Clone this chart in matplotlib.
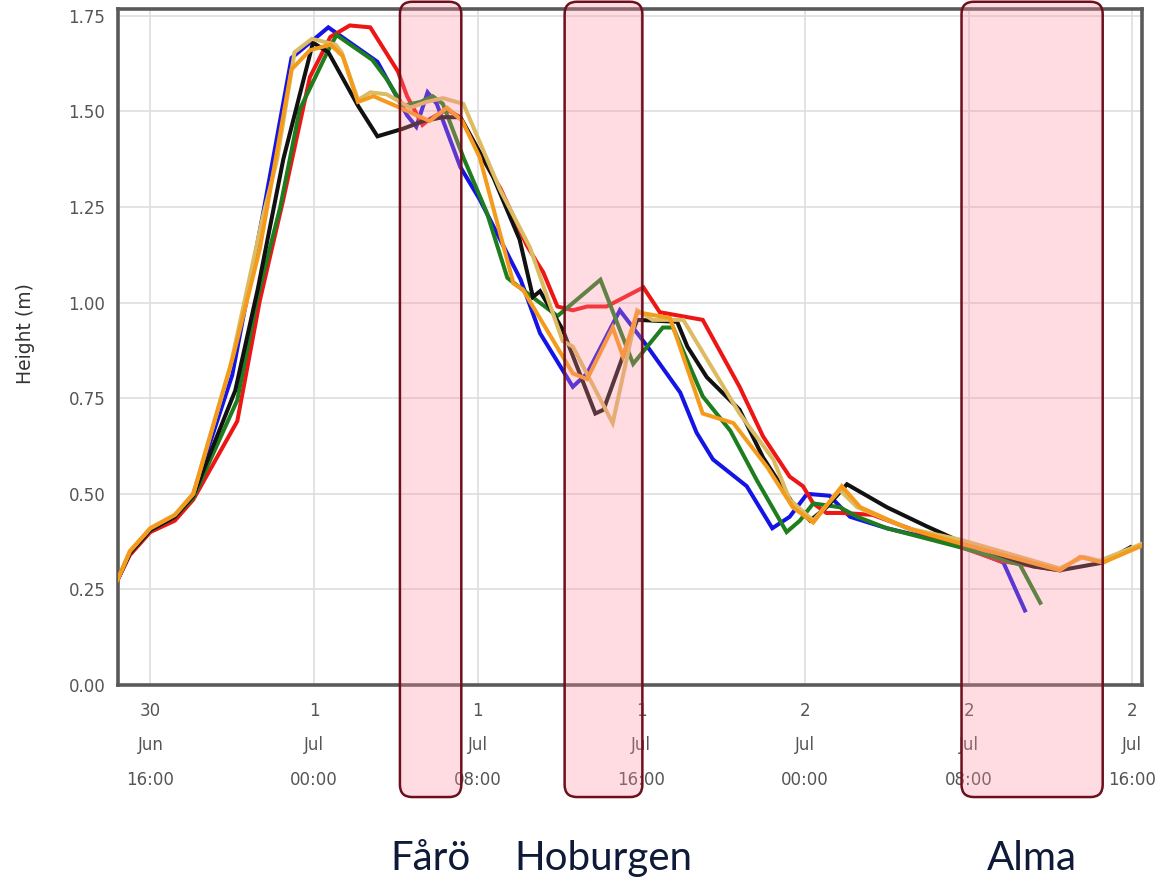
import matplotlib
matplotlib.use("Agg")
import matplotlib.pyplot as plt
from matplotlib.patches import FancyBboxPatch

# hours relative to 1 Jul 00:00, wave height in metres
blue_t = [-9.6, -9.0, -8.0, -6.8, -5.9, -4.0, -2.5, -1.1, 0.7, 3.1, 4.55, 5.0, 5.55, 6.0, 7.15,
          8.1, 10.1, 11.05, 12.65, 13.35, 14.95, 16.3, 17.9, 18.7, 19.5, 21.15, 22.4, 23.25, 24.1,
          25.2, 26.2, 28.0, 31.6, 33.7, 34.75]
blue_h = [0.275, 0.345, 0.405, 0.44, 0.50, 0.81, 1.23, 1.64, 1.72, 1.63, 1.49, 1.46, 1.55, 1.52, 1.355,
          1.27, 1.06, 0.92, 0.78, 0.815, 0.98, 0.885, 0.765, 0.66, 0.59, 0.52, 0.41, 0.44, 0.50,
          0.495, 0.44, 0.41, 0.365, 0.32, 0.195]

green_t = [-9.6, -9.0, -8.0, -6.8, -5.9, -3.75, -2.8, -1.65, -0.7, 0.65, 1.1, 2.85, 3.55, 4.35, 5.2,
           5.8, 6.3, 7.3, 8.45, 9.45, 10.05, 11.9, 14.0, 15.6, 17.05, 17.55, 19.0, 20.35, 21.65, 23.1,
           23.75, 24.4, 25.7, 26.55, 28.0, 31.6, 34.5, 35.5]
green_h = [0.275, 0.345, 0.405, 0.44, 0.49, 0.745, 1.005, 1.25, 1.505, 1.655, 1.70, 1.635, 1.585, 1.515, 1.525,
           1.54, 1.52, 1.38, 1.235, 1.065, 1.04, 0.965, 1.06, 0.84, 0.935, 0.935, 0.755, 0.665, 0.535, 0.40,
           0.43, 0.475, 0.465, 0.44, 0.41, 0.36, 0.315, 0.215]

red_t = [-9.6, -9.0, -8.0, -6.8, -5.9, -3.75, -2.65, -1.5, -0.2, 0.8, 1.75, 2.75, 4.1, 4.55, 5.3,
         5.65, 6.5, 7.15, 8.75, 9.1, 10.4, 10.9, 11.2, 11.9, 12.65, 13.35, 14.3, 16.1, 16.9, 19.0,
         20.8, 21.95, 23.25, 23.9, 24.4, 25.05, 25.85, 27.3, 30.6, 33.5, 36.45]
red_h = [0.275, 0.34, 0.40, 0.43, 0.485, 0.69, 1.005, 1.27, 1.59, 1.695, 1.725, 1.72, 1.605, 1.54, 1.465,
         1.48, 1.505, 1.485, 1.33, 1.30, 1.15, 1.105, 1.08, 0.99, 0.98, 0.99, 0.99, 1.04, 0.975, 0.955,
         0.78, 0.65, 0.545, 0.52, 0.475, 0.45, 0.45, 0.445, 0.38, 0.325, 0.30]

black_t = [-9.6, -9.0, -8.0, -6.8, -5.9, -3.85, -2.75, -1.5, -0.05, 0.7, 2.15, 3.1, 4.35, 5.35, 6.3,
           7.15, 8.75, 10.05, 10.7, 11.05, 12.15, 13.75, 14.15, 15.1, 15.8, 17.75, 18.25, 19.2, 20.8, 21.95,
           23.4, 24.25, 25.05, 26.05, 28.0, 29.95, 31.6, 35.15, 36.45, 38.55, 39.9]
black_h = [0.275, 0.345, 0.405, 0.44, 0.495, 0.77, 1.035, 1.375, 1.68, 1.655, 1.515, 1.435, 1.455, 1.475, 1.485,
           1.485, 1.33, 1.165, 1.015, 1.03, 0.93, 0.71, 0.72, 0.86, 0.955, 0.95, 0.885, 0.805, 0.72, 0.595,
           0.475, 0.43, 0.465, 0.525, 0.465, 0.415, 0.375, 0.31, 0.30, 0.32, 0.36]

khaki_t = [-9.6, -9.0, -8.0, -6.8, -5.9, -4.1, -2.5, -1.8, -0.95, -0.1, 1.05, 1.35, 2.15, 2.75, 3.55,
           4.7, 5.5, 6.3, 7.3, 9.1, 10.55, 12.15, 12.65, 14.6, 15.8, 16.55, 18.05, 20.8, 22.45, 23.25,
           24.4, 25.7, 26.55, 29.0, 31.6, 36.45, 37.6, 38.4, 40.5]
khaki_h = [0.275, 0.35, 0.41, 0.445, 0.50, 0.83, 1.225, 1.375, 1.655, 1.69, 1.675, 1.655, 1.53, 1.55, 1.545,
           1.51, 1.525, 1.535, 1.52, 1.295, 1.145, 0.90, 0.885, 0.685, 0.98, 0.955, 0.955, 0.71, 0.59, 0.485,
           0.43, 0.51, 0.465, 0.41, 0.38, 0.305, 0.335, 0.325, 0.37]

orange_t = [-9.6, -9.0, -8.0, -6.8, -5.9, -3.95, -2.65, -1.1, -0.2, 0.8, 1.4, 2.15, 2.9, 4.2, 5.65,
            6.5, 7.25, 8.1, 9.75, 10.2, 12.65, 13.35, 14.6, 15.1, 15.8, 17.4, 19.0, 20.5, 22.15, 23.4,
            24.4, 25.8, 26.7, 29.0, 31.6, 36.45, 37.45, 38.55, 40.5]
orange_h = [0.275, 0.35, 0.41, 0.445, 0.50, 0.86, 1.14, 1.61, 1.66, 1.675, 1.645, 1.525, 1.54, 1.51, 1.475,
            1.51, 1.475, 1.38, 1.05, 1.035, 0.815, 0.80, 0.935, 0.86, 0.975, 0.96, 0.71, 0.685, 0.57, 0.465,
            0.425, 0.52, 0.465, 0.41, 0.37, 0.30, 0.335, 0.32, 0.365]

tick_hours = [-8, 0, 8, 16, 24, 32, 40]
tick_labels = ["30\nJun\n16:00", "1\nJul\n00:00", "1\nJul\n08:00", "1\nJul\n16:00",
               "2\nJul\n00:00", "2\nJul\n08:00", "2\nJul\n16:00"]

region_names = ["Fårö", "Hoburgen", "Alma"]
region_start = [4.2, 12.25, 31.65]
region_end = [7.2, 16.05, 38.55]

fig = plt.figure(figsize=(11.66, 8.84), dpi=100)
ax = fig.add_axes([0.1012, 0.2251, 0.8782, 0.7647])

series = [
    (blue_t, blue_h, "#1414e6"),
    (red_t, red_h, "#ee1515"),
    (green_t, green_h, "#1e7d1e"),
    (black_t, black_h, "#111111"),
    (khaki_t, khaki_h, "#dcbb62"),
    (orange_t, orange_h, "#f59b1c"),
]
for t, h, c in series:
    ax.plot(t, h, color=c, lw=2.9, solid_joinstyle="miter", zorder=3)

ax.set_xlim(-9.58, 40.47)
ax.set_ylim(0, 1.768)
ax.set_yticks([0, 0.25, 0.5, 0.75, 1.0, 1.25, 1.5, 1.75])
ax.set_yticklabels(["0.00", "0.25", "0.50", "0.75", "1.00", "1.25", "1.50", "1.75"])
ax.set_xticks(tick_hours)
ax.set_xticklabels(tick_labels, linespacing=2.2)
ax.grid(True, color="#dedede", lw=1.2)
ax.tick_params(length=0, labelsize=12, labelcolor="#555555")
ax.tick_params(axis="x", pad=12)
ax.tick_params(axis="y", pad=9)
for s in ax.spines.values():
    s.set_color("#5a5a5a")
    s.set_linewidth(2.6)

ax.set_ylabel("Height (m)", fontsize=13.5, color="#333333")
ax.yaxis.set_label_coords(-0.081, 0.52)

# highlighted passages
for name, a, b in zip(region_names, region_start, region_end):
    box = FancyBboxPatch((a, -0.293), b - a, 2.08,
                         boxstyle="round,pad=0,rounding_size=0.6",
                         mutation_aspect=0.0535,
                         facecolor=(1.0, 0.55, 0.63, 0.3), edgecolor="#6e0f1c",
                         lw=1.8, clip_on=False, zorder=6)
    ax.add_patch(box)
    ax.text((a + b) / 2, -0.453, name, ha="center", va="center",
            fontsize=29, family="Lato", color="#0e1a38", clip_on=False)

fig.savefig("out.png", dpi=100)
